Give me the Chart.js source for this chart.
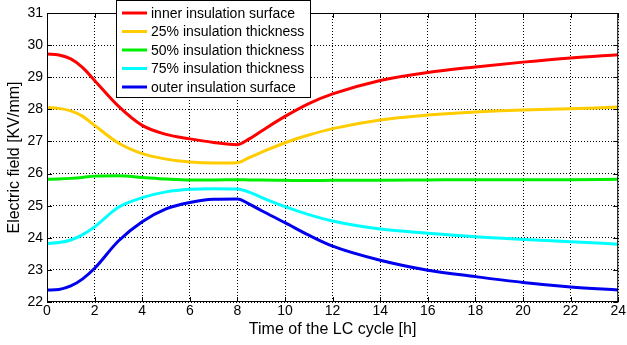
<!DOCTYPE html>
<html>
<head>
<meta charset="utf-8">
<script src="https://cdn.jsdelivr.net/npm/chart.js@4.4.0/dist/chart.umd.min.js"></script>
<style>
    body { margin: 0; background: #fff; }
    #wrap { width: 627px; height: 345px; }
</style>
</head>
<body>
<div id="wrap"><canvas id="fieldChart" width="627" height="345"></canvas></div>
<script>
// time of the LC cycle [h]
const hours = [0, 0.5, 1, 1.5, 2, 3, 4, 5, 6, 7, 8, 8.5, 9, 10, 11, 12, 14, 16, 18, 20, 22, 24];

// electric field [kV/mm] at each radial position
const inner = [29.72, 29.69, 29.57, 29.3, 28.9, 28.1, 27.5, 27.22, 27.08, 26.97, 26.9, 27.08, 27.32, 27.78, 28.18, 28.48, 28.9, 29.15, 29.32, 29.47, 29.6, 29.7];
const thick25 = [28.05, 28.03, 27.95, 27.78, 27.5, 26.95, 26.62, 26.45, 26.36, 26.33, 26.34, 26.5, 26.66, 26.96, 27.2, 27.4, 27.67, 27.82, 27.92, 27.98, 28.02, 28.07];
const thick50 = [25.82, 25.83, 25.85, 25.88, 25.92, 25.93, 25.88, 25.83, 25.8, 25.8, 25.81, 25.8, 25.8, 25.79, 25.78, 25.79, 25.79, 25.8, 25.81, 25.81, 25.81, 25.82];
const thick75 = [23.82, 23.85, 23.93, 24.1, 24.34, 24.95, 25.25, 25.43, 25.51, 25.53, 25.52, 25.42, 25.26, 24.97, 24.72, 24.52, 24.27, 24.14, 24.03, 23.95, 23.88, 23.8];
const outer = [22.37, 22.39, 22.5, 22.72, 23.05, 23.9, 24.5, 24.9, 25.1, 25.2, 25.21, 25.05, 24.85, 24.47, 24.08, 23.74, 23.3, 22.99, 22.79, 22.61, 22.47, 22.37];

const seriesLabels = ['inner insulation surface', '25% insulation thickness', '50% insulation thickness', '75% insulation thickness', 'outer insulation surface'];
const seriesColors = ['#ff0000', '#ffcc00', '#00ee00', '#00ffff', '#0000ee'];
const allSeries = [inner, thick25, thick50, thick75, outer];

Chart.defaults.font.family = "'Liberation Sans', Arial, sans-serif";
Chart.defaults.font.size = 14;
Chart.defaults.color = '#000';

function toPoints(values) {
    return values.map((v, i) => ({ x: hours[i], y: v }));
}

// box around the plot + inward ticks like matlab
const frame = {
    id: 'frame',
    afterDatasetsDraw(chart) {
        const ctx = chart.ctx;
        const a = chart.chartArea;
        ctx.save();
        ctx.strokeStyle = '#000';
        ctx.lineWidth = 1;
        ctx.setLineDash([]);
        ctx.strokeRect(a.left + 0.5, a.top + 0.5, a.right - a.left - 1, a.bottom - a.top - 1);
        ctx.beginPath();
        chart.scales.x.ticks.forEach(t => {
            const px = Math.round(chart.scales.x.getPixelForValue(t.value)) + 0.5;
            ctx.moveTo(px, a.bottom); ctx.lineTo(px, a.bottom - 5);
            ctx.moveTo(px, a.top); ctx.lineTo(px, a.top + 5);
        });
        chart.scales.y.ticks.forEach(t => {
            const py = Math.round(chart.scales.y.getPixelForValue(t.value)) + 0.5;
            ctx.moveTo(a.left, py); ctx.lineTo(a.left + 5, py);
            ctx.moveTo(a.right, py); ctx.lineTo(a.right - 5, py);
        });
        ctx.stroke();
        ctx.restore();
    }
};

// legend box sitting over the top of the plot
const boxLegend = {
    id: 'boxLegend',
    afterDraw(chart) {
        const ctx = chart.ctx;
        const left = chart.chartArea.left + 69;
        const w = 194, h = 97, rowH = 18.5;
        ctx.save();
        ctx.fillStyle = '#fff';
        ctx.fillRect(left, 0, w, h);
        ctx.strokeStyle = '#000';
        ctx.lineWidth = 1;
        ctx.strokeRect(left + 0.5, 0.5, w, h);
        ctx.font = "14px 'Liberation Sans', Arial, sans-serif";
        ctx.textBaseline = 'middle';
        chart.data.datasets.forEach((ds, i) => {
            const y = 13 + i * rowH;
            ctx.strokeStyle = ds.borderColor;
            ctx.lineWidth = 3;
            ctx.beginPath();
            ctx.moveTo(left + 6, y);
            ctx.lineTo(left + 31, y);
            ctx.stroke();
            ctx.fillStyle = '#000';
            ctx.fillText(ds.label, left + 35, y + 1);
        });
        ctx.restore();
    }
};

const ctx = document.getElementById('fieldChart').getContext('2d');
const fieldChart = new Chart(ctx, {
    type: 'line',
    data: {
        datasets: allSeries.map((vals, i) => ({
            label: seriesLabels[i],
            data: toPoints(vals),
            borderColor: seriesColors[i],
            backgroundColor: seriesColors[i],
            borderWidth: 3,
            pointRadius: 0,
            cubicInterpolationMode: 'monotone',
            fill: false
        }))
    },
    options: {
        responsive: false,
        animation: false,
        layout: { padding: { top: 13, right: 6, bottom: 0, left: 0 } },
        plugins: {
            legend: { display: false },
            tooltip: { enabled: false }
        },
        scales: {
            x: {
                type: 'linear',
                min: 0,
                max: 24,
                afterFit(scale) { scale.height = 43; },
                ticks: { stepSize: 2, padding: 1, maxRotation: 0 },
                grid: { color: '#000', drawTicks: false, lineWidth: 1 },
                border: { display: false, dash: [1, 2] },
                title: { display: true, text: 'Time of the LC cycle [h]', font: { size: 16 }, padding: { top: 0, bottom: 6 } }
            },
            y: {
                min: 22,
                max: 31,
                afterFit(scale) { scale.width = 47; },
                ticks: { stepSize: 1, padding: 4 },
                grid: { color: '#000', drawTicks: false, lineWidth: 1 },
                border: { display: false, dash: [1, 2] },
                title: { display: true, text: 'Electric field [KV/mm]', font: { size: 16 }, padding: { top: 5, bottom: 0 } }
            }
        }
    },
    plugins: [frame, boxLegend]
});
</script>
</body>
</html>
